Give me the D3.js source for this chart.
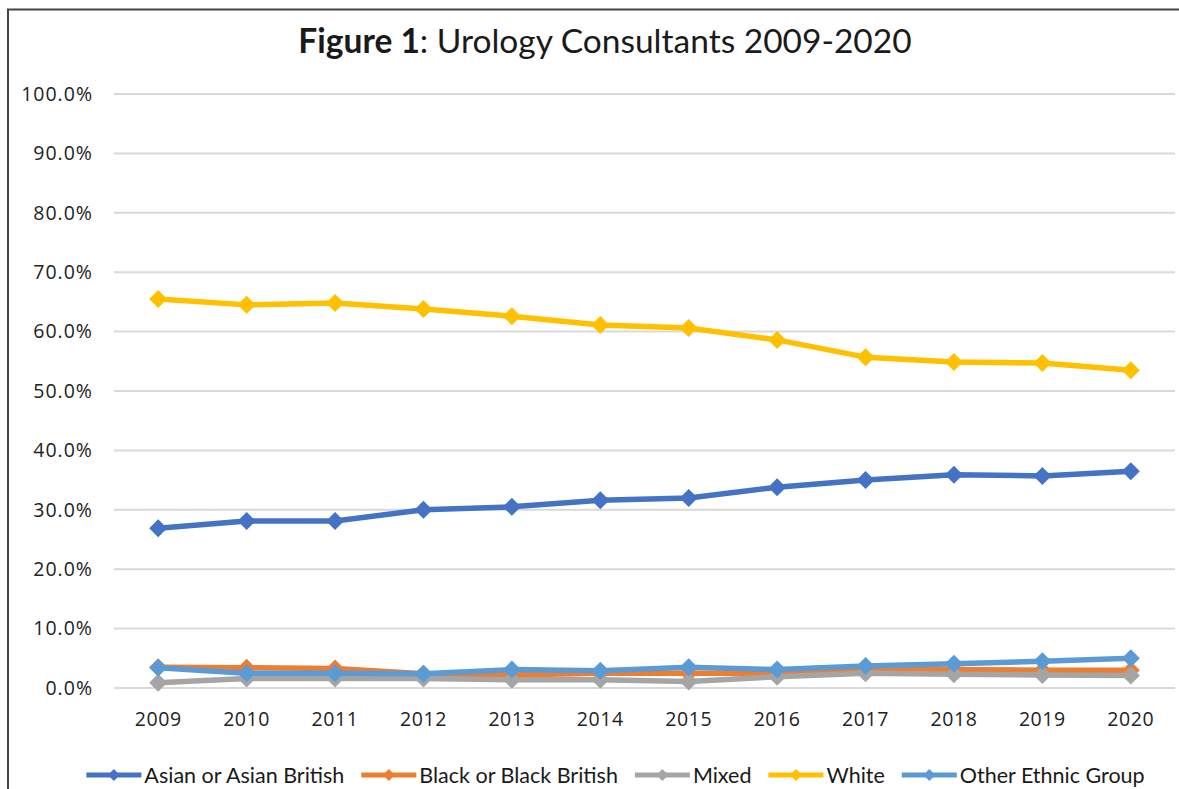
<!DOCTYPE html>
<html>
<head>
<meta charset="utf-8">
<script src="https://cdn.jsdelivr.net/npm/d3@7"></script>
<style>
    body { margin: 0; background: #fff; }
    svg { display: block; }
</style>
</head>
<body>
<svg width="1179" height="789"></svg>
<script>
// years along the bottom
let years = ["2009", "2010", "2011", "2012", "2013", "2014", "2015", "2016", "2017", "2018", "2019", "2020"];

// percent of consultants, one array per ethnic group
let asian = [26.9, 28.1, 28.1, 30.0, 30.5, 31.6, 32.0, 33.8, 35.0, 35.9, 35.7, 36.5];
let black = [3.5, 3.4, 3.3, 2.4, 2.2, 2.5, 2.5, 2.5, 3.2, 3.1, 3.0, 3.0];
let mixed = [0.9, 1.6, 1.6, 1.6, 1.4, 1.4, 1.1, 1.9, 2.5, 2.3, 2.2, 2.1];
let white = [65.5, 64.5, 64.8, 63.8, 62.6, 61.1, 60.6, 58.6, 55.7, 54.9, 54.7, 53.5];
let other = [3.4, 2.5, 2.5, 2.4, 3.1, 2.9, 3.5, 3.1, 3.7, 4.1, 4.5, 5.0];

let yTicks = [0, 10, 20, 30, 40, 50, 60, 70, 80, 90, 100];

let series = [
    { name: "Asian or Asian British", values: asian, color: "#4472C4" },
    { name: "Black or Black British", values: black, color: "#ED7D31" },
    { name: "Mixed", values: mixed, color: "#A5A5A5" },
    { name: "White", values: white, color: "#FFC000" },
    { name: "Other Ethnic Group", values: other, color: "#5B9BD5" }
];

const svg = d3.select("svg");

// outer frame (only top and left edges show in the picture)
svg.append("path")
    .attr("d", "M8,789 V9.5 H1179")
    .attr("fill", "none")
    .attr("stroke", "#444")
    .attr("stroke-width", 2);

// title: bold "Figure 1" then the rest in regular weight
let title = svg.append("text")
    .attr("x", 605)
    .attr("y", 53)
    .attr("text-anchor", "middle")
    .attr("font-family", "Lato, 'Open Sans', sans-serif")
    .attr("font-size", 33.5)
    .attr("fill", "#1a1a1a");
title.append("tspan").attr("font-weight", "bold").text("Figure 1");
title.append("tspan").text(": Urology Consultants 2009-2020");

const x = d3.scaleBand().domain(years).range([114, 1175]);
const y = d3.scaleLinear().domain([0, 100]).range([688, 94]);

// horizontal grid lines
svg.append("g")
    .selectAll("line")
    .data(yTicks)
    .join("line")
    .attr("x1", 114)
    .attr("x2", 1175)
    .attr("y1", d => y(d))
    .attr("y2", d => y(d))
    .attr("stroke", "#d9d9d9")
    .attr("stroke-width", 2);

// y axis labels
const yAxis = d3.axisLeft(y)
    .tickValues(yTicks)
    .tickSize(0)
    .tickPadding(0)
    .tickFormat(d => d.toFixed(1) + "%");

svg.append("g")
    .attr("transform", "translate(93,0)")
    .call(yAxis)
    .call(g => g.select(".domain").remove())
    .selectAll("text")
    .attr("font-family", "'Open Sans', sans-serif")
    .attr("font-size", 19.5)
    .attr("letter-spacing", 1)
    .attr("fill", "#222");

// x axis labels
const xAxis = d3.axisBottom(x).tickSize(0).tickPadding(0);

svg.append("g")
    .attr("transform", "translate(0,712)")
    .call(xAxis)
    .call(g => g.select(".domain").remove())
    .selectAll("text")
    .attr("font-family", "'Open Sans', sans-serif")
    .attr("font-size", 19.5)
    .attr("letter-spacing", 0.6)
    .attr("fill", "#222");

const cx = d => x(d) + x.bandwidth() / 2;
const line = d3.line()
    .x((d, i) => cx(years[i]))
    .y(d => y(d));

// diamond marker, r is half the diagonal
const diamond = r => `M0,${-r}L${r},0L0,${r}L${-r},0Z`;

// each series draws its line then its markers, in order
series.forEach(s => {
    let g = svg.append("g");
    g.append("path")
        .datum(s.values)
        .attr("d", line)
        .attr("fill", "none")
        .attr("stroke", s.color)
        .attr("stroke-width", 5.5)
        .attr("stroke-linejoin", "round");
    g.selectAll("path.marker")
        .data(s.values)
        .join("path")
        .attr("class", "marker")
        .attr("d", diamond(9))
        .attr("transform", (d, i) => `translate(${cx(years[i])},${y(d)})`)
        .attr("fill", s.color);
});

// legend, laid out from the measured text widths and centred
let legend = svg.append("g").attr("transform", "translate(0,775)");
let items = legend.selectAll("g")
    .data(series)
    .join("g");

items.append("line")
    .attr("x1", 0)
    .attr("x2", 55)
    .attr("stroke", d => d.color)
    .attr("stroke-width", 5);

items.append("path")
    .attr("d", diamond(6))
    .attr("transform", "translate(27.5,0)")
    .attr("fill", d => d.color);

items.append("text")
    .attr("x", 58)
    .attr("dy", "0.35em")
    .attr("font-family", "Lato, 'Open Sans', sans-serif")
    .attr("font-size", 21.5)
    .attr("fill", "#1a1a1a")
    .text(d => d.name);

let widths = [];
items.each(function () {
    widths.push(58 + this.querySelector("text").getComputedTextLength());
});
let gap = 17;
let total = d3.sum(widths) + gap * (widths.length - 1);
let pos = (86 + 1145) / 2 - total / 2;
items.each(function (d, i) {
    d3.select(this).attr("transform", `translate(${pos},0)`);
    pos += widths[i] + gap;
});
</script>
</body>
</html>
